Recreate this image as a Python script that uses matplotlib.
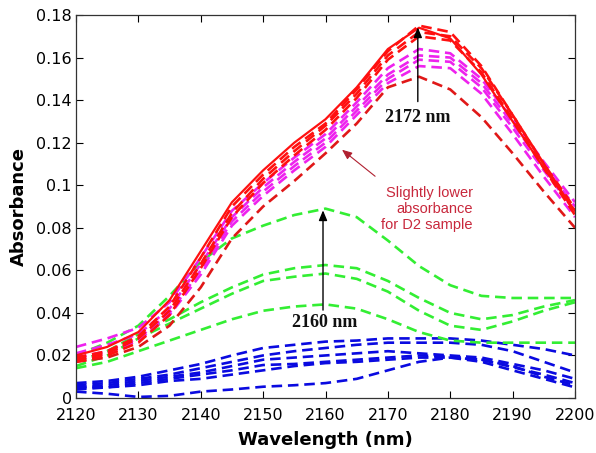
import matplotlib
matplotlib.use("Agg")
import matplotlib.pyplot as plt

W, H = 596, 453
wavelength = [2120, 2125, 2130, 2135, 2140, 2145, 2150, 2155, 2160,
              2165, 2170, 2175, 2180, 2185, 2190, 2195, 2200]

red_solid = [0.020, 0.024, 0.031, 0.046, 0.069, 0.092, 0.107, 0.120, 0.131, 0.146, 0.164, 0.174, 0.169, 0.152, 0.130, 0.108, 0.088]
red_2 = [0.019, 0.022, 0.029, 0.043, 0.066, 0.090, 0.105, 0.118, 0.129, 0.145, 0.163, 0.175, 0.172, 0.156, 0.133, 0.110, 0.089]
red_3 = [0.018, 0.021, 0.028, 0.041, 0.063, 0.087, 0.103, 0.116, 0.128, 0.143, 0.161, 0.172, 0.170, 0.155, 0.133, 0.110, 0.087]
red_4 = [0.017, 0.020, 0.026, 0.039, 0.061, 0.085, 0.101, 0.114, 0.126, 0.141, 0.159, 0.170, 0.168, 0.153, 0.131, 0.108, 0.086]
red_d2 = [0.017, 0.019, 0.024, 0.034, 0.052, 0.075, 0.090, 0.102, 0.115, 0.129, 0.146, 0.151, 0.145, 0.132, 0.115, 0.097, 0.080]

mag_1 = [0.024, 0.028, 0.033, 0.045, 0.066, 0.088, 0.101, 0.113, 0.124, 0.139, 0.155, 0.164, 0.162, 0.150, 0.131, 0.111, 0.092]
mag_2 = [0.021, 0.025, 0.030, 0.042, 0.063, 0.085, 0.099, 0.111, 0.122, 0.137, 0.152, 0.161, 0.160, 0.148, 0.129, 0.109, 0.090]
mag_3 = [0.019, 0.022, 0.028, 0.040, 0.060, 0.083, 0.097, 0.109, 0.120, 0.135, 0.150, 0.159, 0.158, 0.146, 0.127, 0.107, 0.088]
mag_4 = [0.018, 0.021, 0.027, 0.039, 0.058, 0.081, 0.095, 0.107, 0.118, 0.133, 0.148, 0.156, 0.155, 0.143, 0.124, 0.104, 0.085]

green_1 = [0.020, 0.026, 0.034, 0.048, 0.064, 0.075, 0.081, 0.086, 0.089, 0.085, 0.074, 0.062, 0.053, 0.048, 0.047, 0.047, 0.047]
green_2 = [0.017, 0.022, 0.030, 0.037, 0.045, 0.052, 0.058, 0.061, 0.0625, 0.061, 0.055, 0.047, 0.040, 0.037, 0.039, 0.043, 0.046]
green_3 = [0.015, 0.020, 0.028, 0.035, 0.042, 0.049, 0.055, 0.057, 0.0585, 0.056, 0.050, 0.041, 0.034, 0.032, 0.036, 0.041, 0.045]
green_4 = [0.014, 0.017, 0.022, 0.027, 0.032, 0.037, 0.041, 0.043, 0.044, 0.042, 0.037, 0.031, 0.027, 0.026, 0.026, 0.026, 0.026]

blue_1 = [0.007, 0.008, 0.010, 0.013, 0.016, 0.020, 0.0235, 0.025, 0.0265, 0.027, 0.028, 0.028, 0.028, 0.027, 0.025, 0.023, 0.020]
blue_2 = [0.006, 0.007, 0.009, 0.011, 0.014, 0.017, 0.020, 0.022, 0.0235, 0.025, 0.026, 0.026, 0.026, 0.025, 0.022, 0.017, 0.012]
blue_3 = [0.005, 0.006, 0.008, 0.010, 0.012, 0.015, 0.018, 0.019, 0.020, 0.021, 0.022, 0.021, 0.020, 0.019, 0.016, 0.013, 0.009]
blue_4 = [0.005, 0.005, 0.007, 0.009, 0.011, 0.013, 0.0155, 0.016, 0.017, 0.018, 0.019, 0.020, 0.0195, 0.018, 0.0145, 0.011, 0.007]
blue_5 = [0.004, 0.005, 0.006, 0.008, 0.009, 0.011, 0.013, 0.015, 0.0164, 0.017, 0.018, 0.019, 0.019, 0.017, 0.013, 0.009, 0.005]
blue_6 = [0.003, 0.002, 0.0005, 0.001, 0.003, 0.004, 0.0053, 0.006, 0.007, 0.009, 0.013, 0.017, 0.019, 0.018, 0.015, 0.010, 0.006]

x_ticks = [2120, 2130, 2140, 2150, 2160, 2170, 2180, 2190, 2200]
y_ticks = [0, 0.02, 0.04, 0.06, 0.08, 0.1, 0.12, 0.14, 0.16, 0.18]
y_tick_labels = ["0", "0.02", "0.04", "0.06", "0.08", "0.1", "0.12", "0.14", "0.16", "0.18"]

RED = "#ff1010"
DRED = "#e01818"
MAG = "#ee22ee"
GRN = "#33ee33"
BLU = "#0a0ae0"

fig = plt.figure(figsize=(W / 100, H / 100), dpi=100)
ax = fig.add_axes([76 / W, 1 - 398 / H, (575 - 76) / W, (398 - 15) / H])

dash = (4, 2.2)
lw = 1.9
for ys in [blue_6, blue_5, blue_4, blue_3, blue_2, blue_1]:
    ax.plot(wavelength, ys, color=BLU, lw=lw, dashes=dash)
for ys in [green_4, green_3, green_2, green_1]:
    ax.plot(wavelength, ys, color=GRN, lw=lw, dashes=dash)
ax.plot(wavelength, red_d2, color=DRED, lw=lw, dashes=dash)
for ys in [mag_4, mag_3, mag_2, mag_1]:
    ax.plot(wavelength, ys, color=MAG, lw=lw, dashes=dash)
for ys in [red_4, red_3, red_2]:
    ax.plot(wavelength, ys, color=RED, lw=lw, dashes=dash)
ax.plot(wavelength, red_solid, color=RED, lw=1.6)

ax.set_xlim(2120, 2200)
ax.set_ylim(0, 0.18)
ax.set_xticks(x_ticks)
ax.set_yticks(y_ticks)
ax.set_yticklabels(y_tick_labels)
ax.tick_params(direction="in", length=5, width=0.8, top=True, right=True,
               labelsize=11.5)
ax.tick_params(axis="x", pad=7)
ax.tick_params(axis="y", pad=3)
for lab in ax.get_xticklabels() + ax.get_yticklabels():
    lab.set_fontfamily("DejaVu Sans")
for sp in ax.spines.values():
    sp.set_linewidth(0.9)
    sp.set_color("#333333")

ax.set_xlabel("Wavelength (nm)", fontsize=13, fontweight="bold",
              family="DejaVu Sans", labelpad=6)
ax.set_ylabel("Absorbance", fontsize=13, fontweight="bold",
              family="DejaVu Sans", labelpad=6)

arrow_kw = dict(arrowstyle="-|>,head_length=0.6,head_width=0.25", color="black", lw=1.0)
ax.annotate("", xy=(2174.8, 0.1755), xytext=(2174.8, 0.138), arrowprops=arrow_kw)
ax.text(2174.8, 0.1316, "2172 nm", ha="center", va="center", fontsize=13,
        fontweight="bold", family="Liberation Serif", color="#111111")
ax.annotate("", xy=(2159.6, 0.0895), xytext=(2159.6, 0.040), arrowprops=arrow_kw)
ax.text(2159.9, 0.0357, "2160 nm", ha="center", va="center", fontsize=13,
        fontweight="bold", family="Liberation Serif", color="#111111")

ax.annotate("", xy=(2162.3, 0.1175), xytext=(2168.3, 0.1034),
            arrowprops=dict(arrowstyle="-|>,head_length=0.6,head_width=0.25",
                            color="#b02030", lw=0.8))
ax.text(2183.6, 0.0888, "Slightly lower\nabsorbance\nfor D2 sample", ha="right",
        va="center", multialignment="right", fontsize=10.5,
        family="Liberation Sans", color="#c8283c", linespacing=1.15)

fig.savefig("out.png", dpi=100)
